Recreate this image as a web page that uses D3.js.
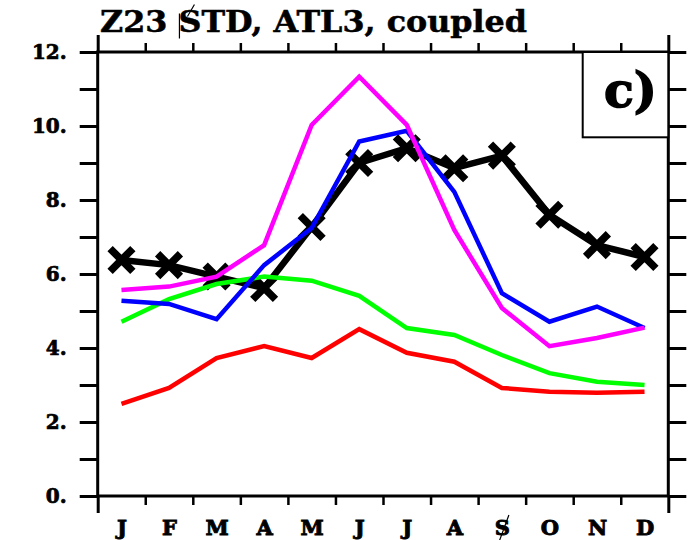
<!DOCTYPE html>
<html>
<head>
<meta charset="utf-8">
<script src="https://cdn.jsdelivr.net/npm/d3@7"></script>
<style>
  body { margin: 0; background: #fff; }
  svg text { font-family: "DejaVu Serif", serif; font-weight: bold; fill: #000; stroke: #000; }
</style>
</head>
<body>
<script>
// Data
var months  = ["J", "F", "M", "A", "M", "J", "J", "A", "S", "O", "N", "D"];
var yTicks  = [0, 1, 2, 3, 4, 5, 6, 7, 8, 9, 10, 11, 12];
var obs     = [6.38, 6.24, 5.93, 5.62, 7.27, 9.0, 9.4, 8.86, 9.2, 7.6, 6.78, 6.46];
var red     = [2.49, 2.92, 3.73, 4.05, 3.73, 4.51, 3.87, 3.63, 2.92, 2.82, 2.79, 2.82];
var green   = [4.71, 5.32, 5.73, 5.93, 5.82, 5.41, 4.54, 4.35, 3.81, 3.32, 3.09, 3.0];
var blue    = [5.28, 5.19, 4.78, 6.24, 7.24, 9.58, 9.87, 8.22, 5.48, 4.71, 5.12, 4.54];
var magenta = [5.57, 5.66, 5.93, 6.78, 10.03, 11.33, 10.03, 7.19, 5.08, 4.05, 4.27, 4.55];

var title = "Z23 STD, ATL3, coupled";
var panel = "c)";

// Stage
var W = 689, H = 540,
    pLeft = 97.7, pRight = 668.3, pTop = 52, pBottom = 496;

var svg = d3.select("body").append("svg")
  .attr("width", W).attr("height", H);

var x = d3.scaleLinear().domain([-0.5, 11.5]).range([pLeft, pRight]),
    y = d3.scaleLinear().domain([0, 12]).range([pBottom, pTop]);

// Axes (ticks only, frame drawn separately)
var edges  = [-0.5, 11.5],
    bounds = d3.range(0.5, 11, 1);

function style(g, w){
  g.select(".domain").remove();
  g.selectAll("line").attr("stroke", "#000").attr("stroke-width", w);
}

svg.append("g").attr("transform", "translate(" + pLeft + ",0)")
  .call(d3.axisLeft(y).tickValues(yTicks).tickSize(18).tickPadding(13)
    .tickFormat(function(d){ return d % 2 === 0 ? d + "." : ""; }))
  .call(style, 3)
  .selectAll("text").attr("font-size", 20).attr("font-family", null)
  .attr("stroke-width", 0.7);

svg.append("g").attr("transform", "translate(" + pRight + ",0)")
  .call(d3.axisRight(y).tickValues(yTicks).tickSize(18).tickFormat(""))
  .call(style, 3);

[[pBottom, d3.axisBottom], [pTop, d3.axisTop]].forEach(function(a){
  svg.append("g").attr("transform", "translate(0," + a[0] + ")")
    .call(a[1](x).tickValues(bounds).tickSize(9).tickFormat(""))
    .call(style, 2.5);
  svg.append("g").attr("transform", "translate(0," + a[0] + ")")
    .call(a[1](x).tickValues(edges).tickSize(17).tickFormat(""))
    .call(style, 3);
});

var monthAxis = svg.append("g").attr("transform", "translate(0," + pBottom + ")")
  .call(d3.axisBottom(x).tickValues(d3.range(12)).tickSize(0)
    .tickFormat(function(i){ return months[i]; }));
monthAxis.select(".domain").remove();
monthAxis.selectAll("text")
  .attr("font-family", null).attr("font-size", 21)
  .attr("stroke-width", 0.9)
  .attr("dy", null).attr("y", 39);

// Frame
svg.append("rect")
  .attr("x", pLeft).attr("y", pTop)
  .attr("width", pRight - pLeft).attr("height", pBottom - pTop)
  .attr("fill", "none").attr("stroke", "#000").attr("stroke-width", 3);

// Series
var line = d3.line()
  .x(function(d, i){ return x(i); })
  .y(function(d){ return y(d); });

svg.append("path").datum(obs)
  .attr("d", line).attr("fill", "none")
  .attr("stroke", "#000").attr("stroke-width", 6.5);

svg.selectAll(".mark").data(obs).enter().append("path")
  .attr("class", "mark")
  .attr("transform", function(d, i){ return "translate(" + x(i) + "," + y(d) + ")"; })
  .attr("d", d3.symbol(d3.symbolX, 340))
  .attr("fill", "none").attr("stroke", "#000").attr("stroke-width", 7.5);

[[red, "#ff0000"], [green, "#00ff00"], [blue, "#0000ff"], [magenta, "#ff00ff"]].forEach(function(s){
  svg.append("path").datum(s[0])
    .attr("d", line).attr("fill", "none")
    .attr("stroke", s[1]).attr("stroke-width", 4.5);
});

// Panel label
var boxLeft = 582.7, boxBottom = 137.3;
svg.append("rect")
  .attr("x", boxLeft).attr("y", pTop)
  .attr("width", pRight - boxLeft).attr("height", boxBottom - pTop)
  .attr("fill", "#fff").attr("stroke", "#000").attr("stroke-width", 2);
svg.append("text").text(panel)
  .attr("x", 657).attr("y", 107)
  .attr("text-anchor", "end").attr("font-size", 49)
  .attr("stroke-width", 1.5);

// Title
var t = svg.append("text").text(title)
  .attr("x", 100).attr("y", 31.5)
  .attr("font-size", 29).attr("stroke-width", 0.5)
  .attr("textLength", 427).attr("lengthAdjust", "spacingAndGlyphs");

// The odd stroke through each "S"
var p = t.node().getStartPositionOfChar(title.indexOf("S"));
svg.append("path")
  .attr("d", "M" + (p.x + 16) + "," + (p.y - 27) + "L" + (p.x + 9) + "," + (p.y - 15)
           + "M" + (p.x + 1) + "," + (p.y - 18) + "L" + (p.x + 1) + "," + (p.y + 7))
  .attr("fill", "none").attr("stroke", "#000").attr("stroke-width", 1.2);

var sx = x(months.indexOf("S", 5)), sy = pBottom + 39;
svg.append("path")
  .attr("d", "M" + (sx + 7) + "," + (sy - 20) + "L" + (sx - 4) + "," + (sy + 10))
  .attr("fill", "none").attr("stroke", "#000").attr("stroke-width", 1.2);
</script>
</body>
</html>
